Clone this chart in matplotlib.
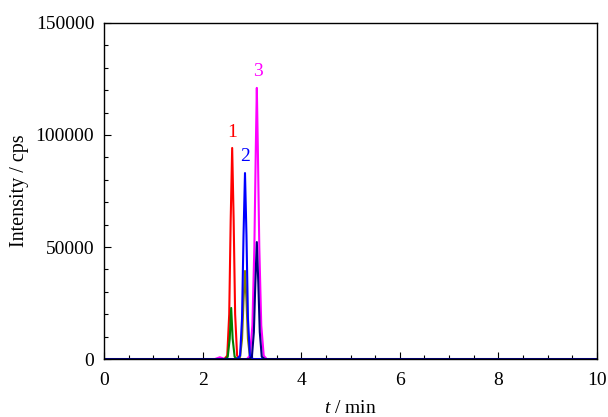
import matplotlib.pyplot as plt
from matplotlib.ticker import MultipleLocator

plt.rcParams['font.family'] = ['Liberation Serif', 'DejaVu Serif']
plt.rcParams['mathtext.fontset'] = 'custom'
plt.rcParams['mathtext.rm'] = 'Liberation Serif'
plt.rcParams['mathtext.it'] = 'Liberation Serif:italic'

# retention time (min) and intensity (cps) for each trace
t_red = [0, 2.44, 2.50, 2.54, 2.57, 2.60, 2.63, 2.66, 2.70, 2.76, 10]
y_red = [0, 0, 1500, 20000, 62000, 94200, 62000, 20000, 1500, 0, 0]

t_green = [0, 2.46, 2.51, 2.55, 2.58, 2.61, 2.65, 2.70, 10]
y_green = [0, 0, 1000, 9000, 22800, 9000, 1000, 0, 0]

t_blue = [0, 2.70, 2.76, 2.80, 2.83, 2.86, 2.89, 2.92, 2.96, 3.02, 10]
y_blue = [0, 0, 1500, 18000, 55000, 83000, 55000, 18000, 1500, 0, 0]

t_olive = [0, 2.70, 2.76, 2.80, 2.83, 2.86, 2.89, 2.92, 2.96, 3.02, 10]
y_olive = [0, 0, 800, 9000, 26000, 39300, 26000, 9000, 800, 0, 0]

t_magenta = [0, 2.25, 2.35, 2.45, 2.90, 2.96, 3.01, 3.05, 3.08, 3.10, 3.12, 3.15, 3.19, 3.24, 3.30, 10]
y_magenta = [0, 0, 800, 0, 0, 1500, 15000, 50000, 95000, 121000, 95000, 50000, 15000, 1500, 0, 0]

t_navy = [0, 2.94, 3.00, 3.04, 3.07, 3.10, 3.13, 3.16, 3.20, 3.26, 10]
y_navy = [0, 0, 1000, 12000, 34000, 52200, 34000, 12000, 1000, 0, 0]

fig = plt.figure(figsize=(6.08, 4.17), dpi=100)
ax = fig.add_axes([0.171, 0.139, 0.811, 0.806])

lw = 1.5
ax.plot(t_red, y_red, color='#ff0000', lw=lw)
ax.plot(t_green, y_green, color='#008000', lw=lw)
ax.plot(t_olive, y_olive, color='#808000', lw=lw)
ax.plot(t_magenta, y_magenta, color='#ff00ff', lw=lw)
ax.plot(t_blue, y_blue, color='#0000ff', lw=lw)
ax.plot(t_navy, y_navy, color='#000080', lw=lw)

ax.text(2.60, 97500, '1', color='#ff0000', fontsize=14, ha='center', va='bottom')
ax.text(2.86, 86500, '2', color='#0000ff', fontsize=14, ha='center', va='bottom')
ax.text(3.12, 124500, '3', color='#ff00ff', fontsize=14, ha='center', va='bottom')

ax.set_xlim(0, 10)
ax.set_ylim(0, 150000)
ax.xaxis.set_major_locator(MultipleLocator(2))
ax.xaxis.set_minor_locator(MultipleLocator(0.5))
ax.yaxis.set_major_locator(MultipleLocator(50000))
ax.yaxis.set_minor_locator(MultipleLocator(10000))
ax.tick_params(which='both', direction='in', top=False, right=False, labelsize=14, width=0.8)
ax.tick_params(which='major', length=5)
ax.tick_params(axis='x', which='major', pad=9)
ax.tick_params(axis='y', which='major', pad=7)
ax.tick_params(which='minor', length=3)
for s in ax.spines.values():
    s.set_linewidth(1.0)

ax.set_xlabel('$t$ / min', fontsize=14, labelpad=8)
ax.set_ylabel('Intensity / cps', fontsize=14.5, labelpad=5)

fig.savefig('out.png', dpi=100)
